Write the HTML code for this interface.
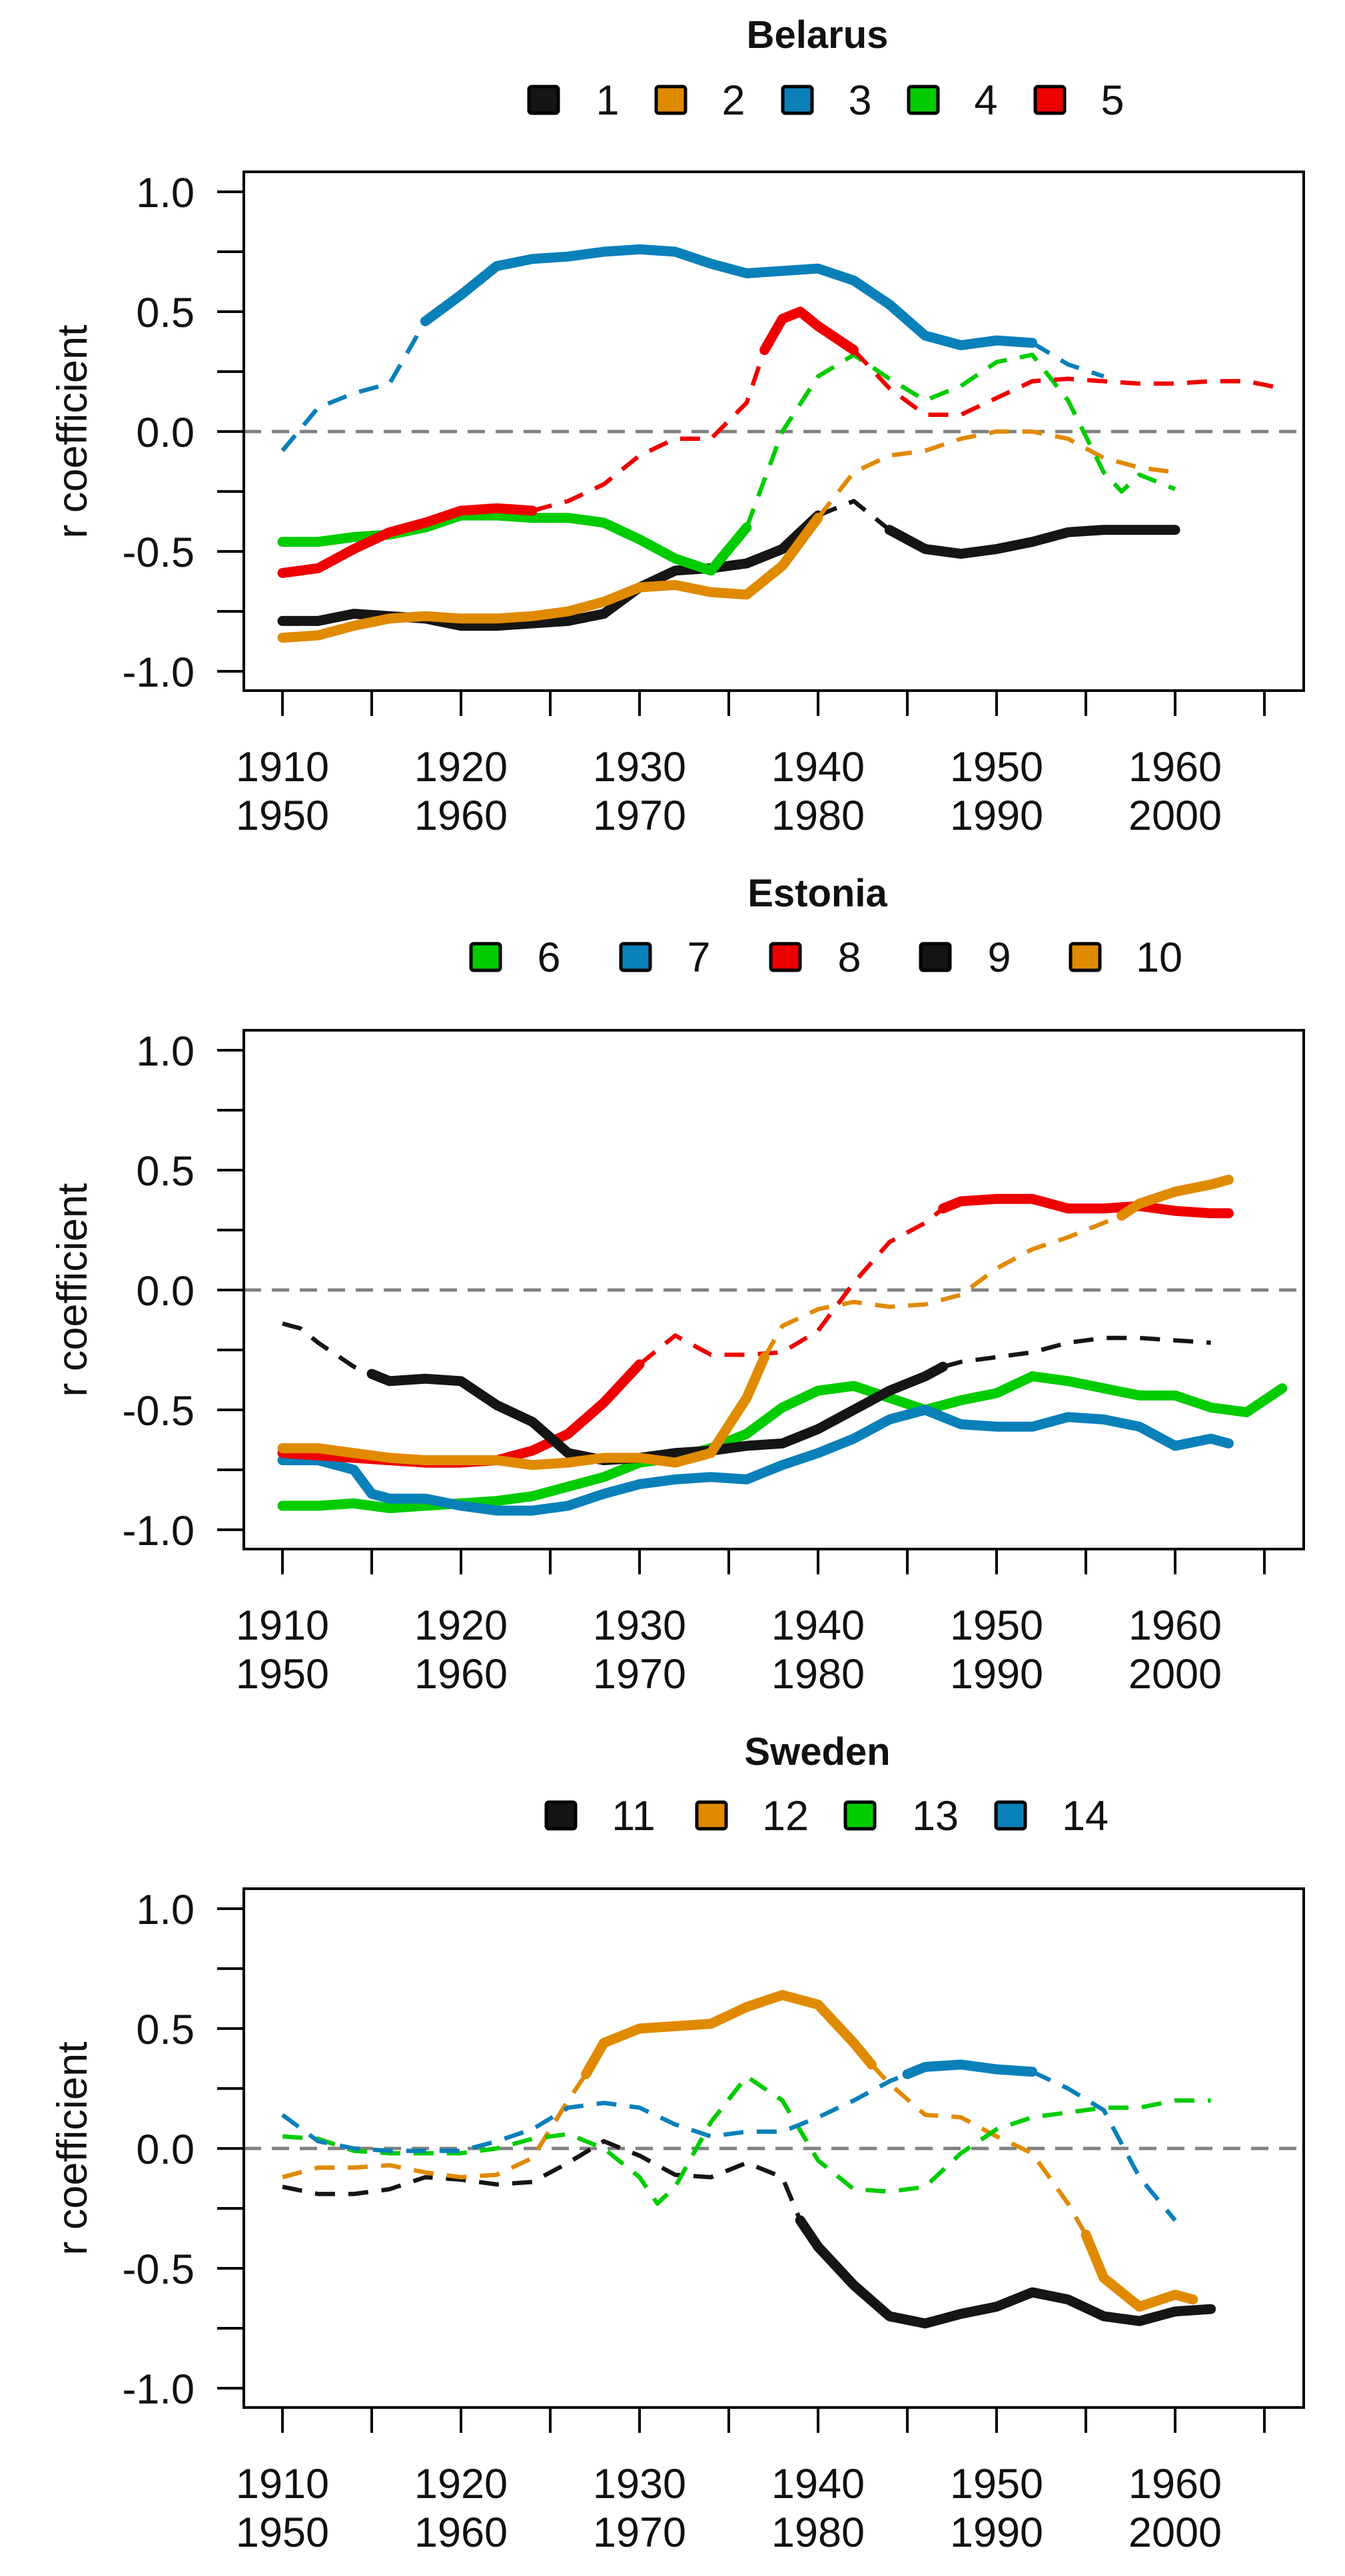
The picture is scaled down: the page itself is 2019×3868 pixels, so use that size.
<!DOCTYPE html>
<html><head><meta charset="utf-8"><style>
html,body{margin:0;padding:0;background:#fff}
svg{display:block}
text{font-family:"Liberation Sans",Arial,sans-serif;fill:#111}
</style></head><body>
<svg id="chart" width="2019" height="3868" viewBox="0 0 2019 3868" xmlns="http://www.w3.org/2000/svg"></svg>
<script>
// ---- data ----
const tickYears = [1910,1915,1920,1925,1930,1935,1940,1945,1950,1955,1960,1965];
const labelYearsTop = [1910,1920,1930,1940,1950,1960];
const labelYearsBottom = ["1950","1960","1970","1980","1990","2000"];
const yTicks = [1.0,0.75,0.5,0.25,0.0,-0.25,-0.5,-0.75,-1.0];
const yTickLabels = ["1.0","","0.5","","0.0","","-0.5","","-1.0"];

// Belarus
const s1_years = [1910,1912,1914,1916,1918,1920,1922,1924,1926,1928,1930,1932,1934,1936,1938,1940,1942,1944,1946,1948,1950,1952,1954,1956,1958,1960];
const s1_vals  = [-0.79,-0.79,-0.76,-0.77,-0.78,-0.81,-0.81,-0.8,-0.79,-0.76,-0.65,-0.58,-0.57,-0.55,-0.49,-0.35,-0.29,-0.41,-0.49,-0.51,-0.49,-0.46,-0.42,-0.41,-0.41,-0.41];
const s1_sig   = [1,1,1,1,1,1,1,1,1,1,1,1,1,1,1,1,0,1,1,1,1,1,1,1,1,1];
const s2_years = [1910,1912,1914,1916,1918,1920,1922,1924,1926,1928,1930,1932,1934,1936,1938,1940,1942,1944,1946,1948,1950,1952,1954,1956,1958,1960];
const s2_vals  = [-0.86,-0.85,-0.81,-0.78,-0.77,-0.78,-0.78,-0.77,-0.75,-0.71,-0.65,-0.64,-0.67,-0.68,-0.56,-0.36,-0.17,-0.1,-0.08,-0.03,0.0,0.0,-0.03,-0.11,-0.15,-0.17];
const s2_sig   = [1,1,1,1,1,1,1,1,1,1,1,1,1,1,1,1,0,0,0,0,0,0,0,0,0,0];
const s3_years = [1910,1912,1914,1916,1918,1920,1922,1924,1926,1928,1930,1932,1934,1936,1938,1940,1942,1944,1946,1948,1950,1952,1954,1956];
const s3_vals  = [-0.08,0.1,0.16,0.2,0.46,0.57,0.69,0.72,0.73,0.75,0.76,0.75,0.7,0.66,0.67,0.68,0.63,0.53,0.4,0.36,0.38,0.37,0.28,0.23];
const s3_sig   = [0,0,0,0,1,1,1,1,1,1,1,1,1,1,1,1,1,1,1,1,1,1,0,0];
const s4_years = [1910,1912,1914,1916,1918,1920,1922,1924,1926,1928,1930,1932,1934,1936,1938,1940,1942,1944,1946,1948,1950,1952,1954,1956,1957,1958,1960];
const s4_vals  = [-0.46,-0.46,-0.44,-0.43,-0.4,-0.35,-0.35,-0.36,-0.36,-0.38,-0.45,-0.53,-0.58,-0.4,0.0,0.23,0.32,0.22,0.13,0.19,0.29,0.32,0.13,-0.17,-0.25,-0.18,-0.24];
const s4_sig   = [1,1,1,1,1,1,1,1,1,1,1,1,1,1,0,0,0,0,0,0,0,0,0,0,0,0,0];
const s5_years = [1910,1912,1914,1916,1918,1920,1922,1924,1926,1928,1930,1932,1934,1936,1937,1938,1939,1940,1942,1944,1946,1948,1950,1952,1954,1956,1958,1960,1962,1964,1966];
const s5_vals  = [-0.59,-0.57,-0.49,-0.42,-0.38,-0.33,-0.32,-0.33,-0.29,-0.22,-0.1,-0.03,-0.03,0.12,0.34,0.47,0.5,0.44,0.34,0.18,0.07,0.07,0.14,0.21,0.22,0.21,0.2,0.2,0.21,0.21,0.18];
const s5_sig   = [1,1,1,1,1,1,1,1,0,0,0,0,0,0,1,1,1,1,1,0,0,0,0,0,0,0,0,0,0,0,0];

// Estonia
const s6_years = [1910,1912,1914,1916,1918,1920,1922,1924,1926,1928,1930,1932,1934,1936,1938,1940,1942,1944,1946,1948,1950,1952,1954,1956,1958,1960,1962,1964,1966];
const s6_vals  = [-0.9,-0.9,-0.89,-0.91,-0.9,-0.89,-0.88,-0.86,-0.82,-0.78,-0.72,-0.7,-0.66,-0.6,-0.49,-0.42,-0.4,-0.45,-0.5,-0.46,-0.43,-0.36,-0.38,-0.41,-0.44,-0.44,-0.49,-0.51,-0.41];
const s6_sig   = [1,1,1,1,1,1,1,1,1,1,1,1,1,1,1,1,1,1,1,1,1,1,1,1,1,1,1,1,1];
const s7_years = [1910,1912,1914,1915,1916,1918,1920,1922,1924,1926,1928,1930,1932,1934,1936,1938,1940,1942,1944,1946,1948,1950,1952,1954,1956,1958,1960,1962,1963];
const s7_vals  = [-0.71,-0.71,-0.75,-0.85,-0.87,-0.87,-0.9,-0.92,-0.92,-0.9,-0.85,-0.81,-0.79,-0.78,-0.79,-0.73,-0.68,-0.62,-0.54,-0.5,-0.56,-0.57,-0.57,-0.53,-0.54,-0.57,-0.65,-0.62,-0.64];
const s7_sig   = [1,1,1,1,1,1,1,1,1,1,1,1,1,1,1,1,1,1,1,1,1,1,1,1,1,1,1,1,1];
const s8_years = [1910,1912,1914,1916,1918,1920,1922,1924,1926,1928,1930,1932,1934,1936,1938,1940,1942,1944,1946,1947,1948,1950,1952,1954,1956,1958,1960,1962,1963];
const s8_vals  = [-0.68,-0.69,-0.7,-0.71,-0.72,-0.72,-0.71,-0.67,-0.6,-0.47,-0.31,-0.19,-0.27,-0.27,-0.26,-0.17,0.03,0.2,0.28,0.34,0.37,0.38,0.38,0.34,0.34,0.35,0.33,0.32,0.32];
const s8_sig   = [1,1,1,1,1,1,1,1,1,1,1,0,0,0,0,0,0,0,0,1,1,1,1,1,1,1,1,1,1];
const s9_years = [1910,1911,1912,1914,1915,1916,1918,1920,1922,1924,1926,1928,1930,1932,1934,1936,1938,1940,1942,1944,1946,1947,1948,1950,1952,1954,1956,1958,1960,1962];
const s9_vals  = [-0.14,-0.16,-0.22,-0.32,-0.35,-0.38,-0.37,-0.38,-0.48,-0.55,-0.68,-0.71,-0.7,-0.68,-0.67,-0.65,-0.64,-0.58,-0.5,-0.42,-0.36,-0.32,-0.3,-0.28,-0.26,-0.22,-0.2,-0.2,-0.21,-0.22];
const s9_sig   = [0,0,0,0,1,1,1,1,1,1,1,1,1,1,1,1,1,1,1,1,1,1,0,0,0,0,0,0,0,0];
const s10_years = [1910,1912,1914,1916,1918,1920,1922,1924,1926,1928,1930,1932,1934,1936,1937,1938,1940,1942,1944,1946,1948,1950,1952,1954,1956,1957,1958,1960,1962,1963];
const s10_vals  = [-0.66,-0.66,-0.68,-0.7,-0.71,-0.71,-0.71,-0.73,-0.72,-0.7,-0.7,-0.72,-0.68,-0.45,-0.28,-0.15,-0.08,-0.05,-0.07,-0.06,-0.02,0.09,0.17,0.22,0.28,0.31,0.36,0.41,0.44,0.46];
const s10_sig   = [1,1,1,1,1,1,1,1,1,1,1,1,1,1,1,0,0,0,0,0,0,0,0,0,0,1,1,1,1,1];

// Sweden
const s11_years = [1910,1912,1914,1916,1918,1920,1922,1924,1926,1928,1930,1932,1934,1936,1938,1939,1940,1942,1944,1946,1948,1950,1952,1954,1956,1958,1960,1962];
const s11_vals  = [-0.16,-0.19,-0.19,-0.17,-0.12,-0.13,-0.15,-0.14,-0.06,0.03,-0.03,-0.11,-0.12,-0.06,-0.12,-0.3,-0.41,-0.57,-0.7,-0.73,-0.69,-0.66,-0.6,-0.63,-0.7,-0.72,-0.68,-0.67];
const s11_sig   = [0,0,0,0,0,0,0,0,0,0,0,0,0,0,0,1,1,1,1,1,1,1,1,1,1,1,1,1];
const s12_years = [1910,1912,1914,1916,1918,1920,1922,1924,1926,1927,1928,1930,1932,1934,1936,1938,1940,1942,1943,1944,1946,1948,1950,1952,1954,1955,1956,1958,1960,1961];
const s12_vals  = [-0.12,-0.08,-0.08,-0.07,-0.1,-0.12,-0.11,-0.04,0.2,0.31,0.44,0.5,0.51,0.52,0.59,0.64,0.6,0.44,0.35,0.27,0.14,0.13,0.05,-0.02,-0.23,-0.36,-0.54,-0.66,-0.61,-0.63];
const s12_sig   = [0,0,0,0,0,0,0,0,0,1,1,1,1,1,1,1,1,1,1,0,0,0,0,0,0,1,1,1,1,1];
const s13_years = [1910,1912,1914,1916,1918,1920,1922,1924,1926,1928,1930,1931,1932,1934,1936,1938,1940,1942,1944,1946,1948,1950,1952,1954,1956,1958,1960,1962];
const s13_vals  = [0.05,0.04,-0.01,-0.02,-0.02,-0.02,0.0,0.04,0.06,0.0,-0.12,-0.23,-0.16,0.11,0.3,0.2,-0.05,-0.17,-0.18,-0.16,-0.02,0.08,0.13,0.15,0.17,0.17,0.2,0.2];
const s13_sig   = [0,0,0,0,0,0,0,0,0,0,0,0,0,0,0,0,0,0,0,0,0,0,0,0,0,0,0,0];
const s14_years = [1910,1912,1914,1916,1918,1920,1922,1924,1926,1928,1930,1932,1934,1936,1938,1940,1942,1944,1945,1946,1948,1950,1952,1954,1956,1958,1960];
const s14_vals  = [0.14,0.03,0.0,-0.01,-0.01,-0.01,0.03,0.08,0.17,0.19,0.17,0.1,0.05,0.07,0.07,0.13,0.2,0.28,0.31,0.34,0.35,0.33,0.32,0.25,0.16,-0.12,-0.3];
const s14_sig   = [0,0,0,0,0,0,0,0,0,0,0,0,0,0,0,0,0,0,1,1,1,1,1,0,0,0,0];

const C = {black:"#151515", orange:"#E08A00", blue:"#0A80B9", green:"#00CC00", red:"#EE0000"};

const panels = [
  {title:"Belarus", oy:0, legendBoxX:[816,1007,1197,1386,1576], legendLabelX:[912,1101,1291,1480,1670], legendY:150,
   series:[["1",C.black,s1_years,s1_vals,s1_sig],["2",C.orange,s2_years,s2_vals,s2_sig],["3",C.blue,s3_years,s3_vals,s3_sig],["4",C.green,s4_years,s4_vals,s4_sig],["5",C.red,s5_years,s5_vals,s5_sig]]},
  {title:"Estonia", oy:1289, legendBoxX:[729,954,1179,1404,1629], legendLabelX:[824,1049,1275,1500,1740], legendY:148,
   series:[["6",C.green,s6_years,s6_vals,s6_sig],["7",C.blue,s7_years,s7_vals,s7_sig],["8",C.red,s8_years,s8_vals,s8_sig],["9",C.black,s9_years,s9_vals,s9_sig],["10",C.orange,s10_years,s10_vals,s10_sig]]},
  {title:"Sweden", oy:2578, legendBoxX:[842,1068,1291,1517], legendLabelX:[951,1179,1404,1629], legendY:148,
   series:[["11",C.black,s11_years,s11_vals,s11_sig],["12",C.orange,s12_years,s12_vals,s12_sig],["13",C.green,s13_years,s13_vals,s13_sig],["14",C.blue,s14_years,s14_vals,s14_sig]]}
];

// ---- drawing ----
const NS = "http://www.w3.org/2000/svg";
const svg = document.getElementById("chart");
function mk(tag, attrs, parent){
  const e = document.createElementNS(NS, tag);
  for (const k in attrs) e.setAttribute(k, attrs[k]);
  (parent||svg).appendChild(e);
  return e;
}
const X0 = 424, PX_PER_YEAR = 26.8;
function xs(yr){ return X0 + (yr-1910)*PX_PER_YEAR; }
const BOX_L = 366, BOX_R = 1957;

panels.forEach((p, pi) => {
  const oy = p.oy;
  function ys(v){ return oy + 648 - v*360; }
  const g = mk("g", {});
  
  

  const t = mk("text", {x:1227, y:oy+72, "font-size":58, "font-weight":"bold", "text-anchor":"middle"}, g);
  t.textContent = p.title;
  
  

  p.series.forEach((s, i) => {
    const bx = p.legendBoxX[i], ly = oy + p.legendY;
    const r = mk("rect", {x:bx-22, y:ly-20, width:44, height:40, rx:4, fill:s[1], stroke:"#000", "stroke-width":5}, g);
    
    
    const lt = mk("text", {x:p.legendLabelX[i], y:ly+22, "font-size":63, "text-anchor":"middle"}, g);
    lt.textContent = s[0];
    
    
  });

  const z = mk("line", {x1:BOX_L, x2:BOX_R, y1:ys(0), y2:ys(0), stroke:"#808080", "stroke-width":5, "stroke-dasharray":"26 16"}, g);
  
  

  p.series.forEach(s => {
    const yrs = s[2], vals = s[3], sig = s[4];
    const sg = mk("g", {}, g);
    
    
    let run = null, runType = null;
    const runs = [];
    for (let k = 0; k < yrs.length-1; k++){
      const type = (sig[k] && sig[k+1]) ? 1 : 0;
      if (run && runType === type) { run.push([yrs[k+1], vals[k+1]]); }
      else { run = [[yrs[k],vals[k]],[yrs[k+1],vals[k+1]]]; runType = type; runs.push({type, pts:run}); }
    }
    runs.forEach(rn => {
      const pts = rn.pts.map(q => xs(q[0]).toFixed(1)+","+ys(q[1]).toFixed(1)).join(" ");
      const attrs = rn.type ? {points:pts, fill:"none", stroke:s[1], "stroke-width":15, "stroke-linejoin":"round", "stroke-linecap":"round"}
                            : {points:pts, fill:"none", stroke:s[1], "stroke-width":6.5, "stroke-dasharray":"30 20", "stroke-linejoin":"round"};
      const pl = mk("polyline", attrs, sg);
      
      
    });
  });

  const box = mk("rect", {x:BOX_L, y:oy+258, width:BOX_R-BOX_L, height:779, fill:"none", stroke:"#000", "stroke-width":4}, g);
  
  

  yTicks.forEach((v, k) => {
    const tk = mk("line", {x1:326, x2:BOX_L, y1:ys(v), y2:ys(v), stroke:"#000", "stroke-width":4}, g);
    
    
    if (yTickLabels[k]) {
      const tl = mk("text", {x:292, y:ys(v)+23, "font-size":63, "text-anchor":"end"}, g);
      tl.textContent = yTickLabels[k];
      
      
    }
  });
  const yl = mk("text", {x:0, y:0, "font-size":63, "text-anchor":"middle", transform:`translate(130,${oy+648}) rotate(-90)`}, g);
  yl.textContent = "r coefficient";
  
  

  tickYears.forEach(yr => {
    const tk = mk("line", {x1:xs(yr), x2:xs(yr), y1:oy+1037, y2:oy+1075, stroke:"#000", "stroke-width":4}, g);
    
    
  });
  labelYearsTop.forEach((yr, k) => {
    const a = mk("text", {x:xs(yr), y:oy+1173, "font-size":63, "text-anchor":"middle"}, g);
    a.textContent = String(yr);
    
    
    const b = mk("text", {x:xs(yr), y:oy+1246, "font-size":63, "text-anchor":"middle"}, g);
    b.textContent = labelYearsBottom[k];
    
    
  });
});
</script>
</body></html>
